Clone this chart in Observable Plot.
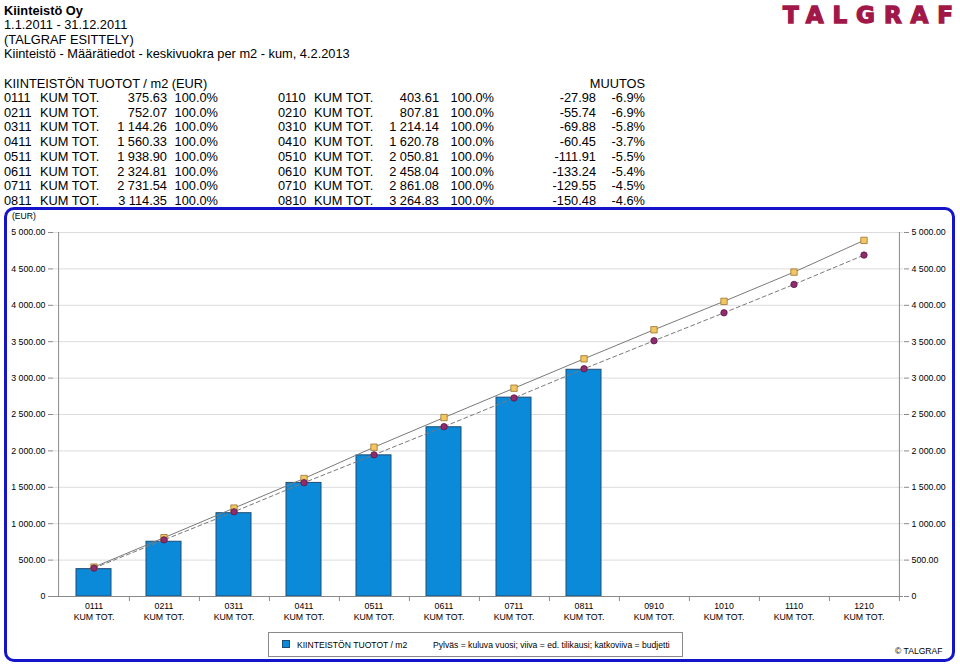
<!DOCTYPE html>
<html><head><meta charset="utf-8">
<script src="https://cdn.jsdelivr.net/npm/d3@7"></script>
<script src="https://cdn.jsdelivr.net/npm/@observablehq/plot@0.6"></script>
<style>
html,body{margin:0;padding:0;background:#fff}
body{width:960px;height:664px;overflow:hidden;position:relative;font-family:"Liberation Sans",Arial,sans-serif;color:#000}
.t{position:absolute;white-space:nowrap;line-height:15px;height:15px}
.h{font-size:12.8px}
.s{font-size:8.6px;line-height:10px;height:10px}
#frame{position:absolute;left:4px;top:207px;width:951px;height:455px;border:3px solid #1414c8;border-radius:10px;box-sizing:border-box}
#chart{position:absolute;left:0;top:207px}
#legend{position:absolute;left:268px;top:632px;width:415px;height:25px;border:1px solid #8a8a8a;box-sizing:border-box;background:#fff}
#lgsw{position:absolute;left:282px;top:640px;width:6px;height:6px;background:#0a8ad8;border:1px solid #1e4c72}
</style></head><body>
<div id="frame"></div>
<div id="chart"></div>
<div id="legend"></div>
<div id="lgsw"></div>
<script>
// ---- data ----
const titleLines = ["Kiinteistö Oy", "1.1.2011 - 31.12.2011", "(TALGRAF ESITTELY)", "Kiinteistö - Määrätiedot - keskivuokra per m2 - kum, 4.2.2013"];
const tableTitle = "KIINTEISTÖN TUOTOT / m2 (EUR)";
const changeTitle = "MUUTOS";
const xLabels = ["0111","0211","0311","0411","0511","0611","0711","0811","0910","1010","1110","1210"];
const prevLabels = ["0110","0210","0310","0410","0510","0610","0710","0810"];
const rowSuffix = "KUM TOT.";
const current = [375.63, 752.07, 1144.26, 1560.33, 1938.90, 2324.81, 2731.54, 3114.35];
const previous = [403.61, 807.81, 1214.14, 1620.78, 2050.81, 2458.04, 2861.08, 3264.83, 3664, 4054, 4456, 4892];
const budget = [390, 778, 1163, 1563, 1946, 2333, 2727, 3128, 3513, 3897, 4287, 4690];
const shareCur = ["100.0%","100.0%","100.0%","100.0%","100.0%","100.0%","100.0%","100.0%"];
const sharePrev = ["100.0%","100.0%","100.0%","100.0%","100.0%","100.0%","100.0%","100.0%"];
const change = [-27.98, -55.74, -69.88, -60.45, -111.91, -133.24, -129.55, -150.48];
const changePct = [-6.9, -6.9, -5.8, -3.7, -5.5, -5.4, -4.5, -4.6];
const yTicks = [0,500,1000,1500,2000,2500,3000,3500,4000,4500,5000];
const legendName = "KIINTEISTÖN TUOTOT / m2";
const legendNote = "Pylväs = kuluva vuosi; viiva = ed. tilikausi; katkoviiva = budjetti";
const copyright = "© TALGRAF";
const unitLabel = "(EUR)";
const logo = "TALGRAF";

// ---- helpers ----
const loc = d3.formatLocale({decimal: ".", thousands: " ", grouping: [3], currency: ["", ""], minus: "-"});
const num = loc.format(",.2f");
const pct = v => loc.format(".1f")(v) + "%";
const yfmt = v => v === 0 ? "0" : num(v);
function put(text, cls, x, yc, align) {
  const d = document.createElement("div");
  d.className = "t " + cls;
  d.textContent = text;
  const lh = cls.includes("s") ? 10 : 15;
  d.style.top = (yc - lh / 2) + "px";
  if (align === "r") d.style.right = (960 - x) + "px"; else d.style.left = x + "px";
  document.body.appendChild(d);
  return d;
}

// ---- header ----
titleLines.forEach((s, i) => {
  const d = put(s, "h", 4, 10 + i * 14.6);
  if (i === 0) d.style.fontWeight = "bold";
});
// logo
const ns = "http://www.w3.org/2000/svg";
const lsvg = document.createElementNS(ns, "svg");
lsvg.setAttribute("width", 184); lsvg.setAttribute("height", 30);
lsvg.style.position = "absolute"; lsvg.style.left = "776px"; lsvg.style.top = "0px";
const lt = document.createElementNS(ns, "text");
lt.setAttribute("x", 7); lt.setAttribute("y", 23);
lt.setAttribute("textLength", 170); lt.setAttribute("lengthAdjust", "spacing");
lt.setAttribute("fill", "#a11848"); lt.setAttribute("stroke", "#a11848"); lt.setAttribute("stroke-width", "1.4");
lt.setAttribute("font-family", "DejaVu Sans, sans-serif");
lt.setAttribute("font-weight", "bold"); lt.setAttribute("font-size", "23");
lt.textContent = logo;
lsvg.appendChild(lt); document.body.appendChild(lsvg);

// ---- table ----
put(tableTitle, "h", 4, 83);
put(changeTitle, "h", 645, 83, "r");
current.forEach((v, i) => {
  const y = 97.5 + i * 14.7;
  put(xLabels[i], "h", 4, y);
  put(rowSuffix, "h", 40, y);
  put(num(v), "h", 167, y, "r");
  put(shareCur[i], "h", 218, y, "r");
  put(prevLabels[i], "h", 278, y);
  put(rowSuffix, "h", 314, y);
  put(num(previous[i]), "h", 439, y, "r");
  put(sharePrev[i], "h", 494, y, "r");
  put(num(change[i]), "h", 596, y, "r");
  put(pct(changePct[i]), "h", 645, y, "r");
});

// ---- chart ----
const W = 960, H = 425, mL = 53, mR = 57, mT = 25, mB = 36;
const step = (W - mL - mR) / xLabels.length;
const bars = current.map((v, i) => ({x: xLabels[i], y: v}));
const prevPts = previous.map((v, i) => ({x: xLabels[i], y: v}));
const budPts = budget.map((v, i) => ({x: xLabels[i], y: v}));
const axisStyle = {ticks: yTicks, tickFormat: yfmt, tickSize: 5, tickPadding: 3, stroke: "#8a8a8a", label: null};
const chart = Plot.plot({
  width: W, height: H, marginLeft: mL, marginRight: mR, marginTop: mT, marginBottom: mB,
  style: {fontFamily: "'Liberation Sans', Arial, sans-serif", fontSize: "8.8px", color: "#000", background: "transparent", overflow: "visible"},
  x: {type: "band", domain: xLabels, paddingInner: 0.5, paddingOuter: 0.25},
  y: {domain: [0, 5000]},
  marks: [
    Plot.gridY(yTicks, {stroke: "#dcdcdc", strokeOpacity: 1}),
    Plot.barY(bars, {x: "x", y: "y", fill: "#0a8ad8", stroke: "#1e4c72", strokeWidth: 1}),
    Plot.ruleY([0], {stroke: "#8a8a8a"}),
    Plot.ruleX([xLabels[0]], {dx: -step / 2, stroke: "#8a8a8a"}),
    Plot.ruleX([xLabels[xLabels.length - 1]], {dx: step / 2, stroke: "#8a8a8a"}),
    Plot.axisX({tickSize: 5, dx: step / 2, tickFormat: () => "", stroke: "#8a8a8a", label: null}),
    Plot.axisX({tickSize: 0, tickPadding: 5, tickFormat: d => d + "\n" + rowSuffix, lineHeight: 1.2, label: null}),
    Plot.axisY({anchor: "left", ...axisStyle}),
    Plot.axisY({anchor: "right", ...axisStyle}),
    Plot.line(prevPts, {x: "x", y: "y", stroke: "#7a7a7a", strokeWidth: 1}),
    Plot.line(budPts, {x: "x", y: "y", stroke: "#7a7a7a", strokeWidth: 1, strokeDasharray: "4,3"}),
    Plot.dot(prevPts, {x: "x", y: "y", symbol: "square", r: 3.6, fill: "#f2c660", stroke: "#9a7430", strokeWidth: 0.8}),
    Plot.dot(budPts, {x: "x", y: "y", r: 3.2, fill: "#8e2c6e", stroke: "#5a1846", strokeWidth: 0.8})
  ]
});
document.getElementById("chart").appendChild(chart);

// ---- labels / legend ----
put(unitLabel, "s", 12, 216);
put(legendName, "s", 297, 644.5);
put(legendNote, "s", 433, 644.5);
put(copyright, "s", 895, 651);
</script>
</body></html>
